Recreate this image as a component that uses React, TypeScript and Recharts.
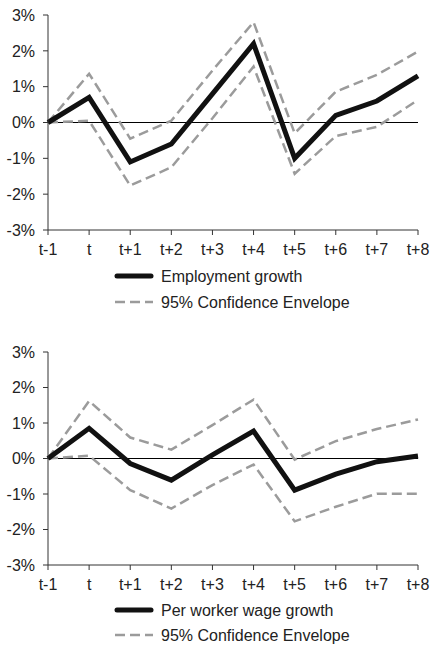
import React from 'react';
import { LineChart, Line, XAxis, YAxis, ReferenceLine, Legend } from 'recharts';

const periods = ['t-1', 't', 't+1', 't+2', 't+3', 't+4', 't+5', 't+6', 't+7', 't+8'];
const yTicks = [-3, -2, -1, 0, 1, 2, 3];

const employmentGrowth = [0, 0.7, -1.1, -0.6, 0.8, 2.2, -1.0, 0.2, 0.6, 1.3];
const employmentUpper = [0, 1.36, -0.45, 0.05, 1.45, 2.8, -0.3, 0.86, 1.33, 1.98];
const employmentLower = [0, 0.05, -1.76, -1.25, 0.12, 1.56, -1.43, -0.38, -0.12, 0.63];

const wageGrowth = [0, 0.85, -0.14, -0.61, 0.1, 0.77, -0.89, -0.44, -0.09, 0.07];
const wageUpper = [0, 1.62, 0.59, 0.25, 0.94, 1.66, -0.03, 0.49, 0.83, 1.1];
const wageLower = [0, 0.08, -0.89, -1.41, -0.75, -0.17, -1.77, -1.36, -0.99, -0.99];

const FONT = '"Liberation Sans", Arial, Helvetica, sans-serif';
const MAIN = '#111111';
const CI = '#9b9b9b';
const AXIS = '#333333';

function build(main: number[], up: number[], lo: number[]) {
  return periods.map((p, i) => ({ period: p, main: main[i], upper: up[i], lower: lo[i] }));
}

function makeLegend(label: string, height: number, row1: number, row2: number) {
  return () => (
    <svg width={430} height={height} style={{ display: 'block' }}>
      <line x1={117} x2={151} y1={row1} y2={row1} stroke={MAIN} strokeWidth={5} strokeLinecap="round" />
      <text x={161} y={row1} dy="0.35em" fontFamily={FONT} fontSize={16} fill="#222">{label}</text>
      <line x1={115} x2={153} y1={row2} y2={row2} stroke={CI} strokeWidth={2.5} strokeDasharray="10 5" />
      <text x={161} y={row2} dy="0.35em" fontFamily={FONT} fontSize={16} fill="#222">95% Confidence Envelope</text>
    </svg>
  );
}

type PanelProps = {
  data: any[];
  label: string;
  height: number;
  top: number;
  marginTop: number;
  legendHeight: number;
  row1: number;
  row2: number;
};

function Panel({ data, label, height, top, marginTop, legendHeight, row1, row2 }: PanelProps) {
  const tickStyle = { fontFamily: FONT, fontSize: 16, fill: '#222' };
  return (
    <div style={{ position: 'absolute', left: 0, top }}>
      <LineChart width={430} height={height} data={data} margin={{ top: marginTop, right: 12, left: 0, bottom: 0 }}>
        <XAxis
          dataKey="period"
          interval={0}
          padding={{ left: 0, right: 0 }}
          height={30}
          tickSize={5}
          tickMargin={9}
          tick={tickStyle}
          axisLine={{ stroke: AXIS }}
          tickLine={{ stroke: AXIS }}
        />
        <XAxis xAxisId="top" dataKey="period" orientation="top" height={0} tick={false} tickLine={false} axisLine={{ stroke: AXIS }} />
        <YAxis
          domain={[-3, 3]}
          ticks={yTicks}
          width={48}
          tickSize={5}
          tickMargin={8}
          tick={tickStyle}
          tickFormatter={(v: number) => `${v}%`}
          axisLine={{ stroke: AXIS }}
          tickLine={{ stroke: AXIS }}
        />
        <YAxis yAxisId="right" orientation="right" domain={[-3, 3]} width={0} tick={false} tickLine={false} axisLine={{ stroke: AXIS }} />
        <ReferenceLine y={0} stroke="#000" strokeWidth={1} />
        <Line dataKey="upper" stroke={CI} strokeWidth={2.5} strokeDasharray="10 5" dot={false} isAnimationActive={false} />
        <Line dataKey="lower" stroke={CI} strokeWidth={2.5} strokeDasharray="10 5" dot={false} isAnimationActive={false} />
        <Line dataKey="main" stroke={MAIN} strokeWidth={5} dot={false} isAnimationActive={false} strokeLinejoin="miter" />
        <Legend verticalAlign="bottom" height={legendHeight} content={makeLegend(label, legendHeight, row1, row2)} wrapperStyle={{ left: 0, width: 430 }} />
      </LineChart>
    </div>
  );
}

export default function App() {
  const d1 = build(employmentGrowth, employmentUpper, employmentLower);
  const d2 = build(wageGrowth, wageUpper, wageLower);
  return (
    <div style={{ position: 'absolute', left: 0, top: 0, width: 430, height: 645, background: '#fff' }}>
      <Panel data={d1} label="Employment growth" height={320} top={0} marginTop={15} legendHeight={60} row1={16} row2={42} />
      <Panel data={d2} label="Per worker wage growth" height={315} top={330} marginTop={22} legendHeight={50} row1={15} row2={40} />
    </div>
  );
}
